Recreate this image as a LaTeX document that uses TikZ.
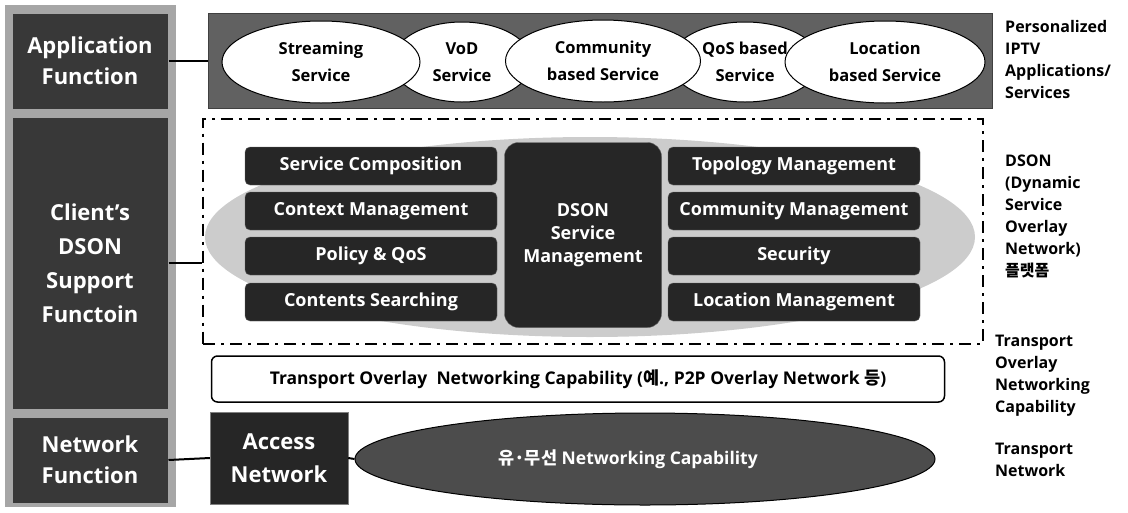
\documentclass[tikz,border=0pt]{standalone}
\usepackage{fontspec}
\setmainfont{Open Sans}
\newfontfamily\krfont{Noto Sans CJK KR}
\usetikzlibrary{positioning,shapes.geometric}
\newcommand{\kr}[1]{{\krfont #1}}

\tikzset{
  funcbox/.style={fill=black!78, draw=black!35, line width=1pt, text=white,
    minimum width=156, align=center,
    font=\bfseries\fontsize{22}{31}\selectfont},
  svc/.style={ellipse, draw, line width=1pt, fill=white, align=center, inner sep=0pt,
    font=\bfseries\fontsize{16.5}{27}\selectfont},
  mgmt/.style={rounded corners=5pt, fill=black!85, draw=black!60, text=white,
    minimum width=252, minimum height=38, font=\bfseries\fontsize{18}{23}\selectfont},
  sidelabel/.style={anchor=north west, align=left, inner sep=0pt,
    font=\bfseries\fontsize{16}{22}\selectfont},
  link/.style={line width=2pt}
}

\begin{document}
\begin{tikzpicture}[x=1pt,y=-1pt]
    \useasboundingbox (0,0) rectangle (1128,512);
    % left column of functions
    \fill[black!35] (5,5) rectangle (176,507);
    \node[funcbox, minimum height=96] (appfn) at (90,61) {Application\\Function};
    \node[funcbox, minimum height=292, font=\bfseries\fontsize{22}{34}\selectfont]
        (clientfn) at (90,263) {Client's\\DSON\\Support\\Functoin};
    \node[funcbox, minimum height=86] (netfn) at (90,460) {Network\\Function};

    % application layer
    \node[fill=black!62, draw=black!75, minimum width=784, minimum height=95] (appbar) at (600,61) {};
    \node[svc, minimum width=140, minimum height=80] (vod) at (462,62) {VoD\\Service};
    \node[svc, minimum width=150, minimum height=80] (qos) at (745,62) {QoS based\\Service};
    \node[svc, minimum width=198, minimum height=82] (stream) at (321,62) {Streaming\\Service};
    \node[svc, minimum width=195, minimum height=82] (comm) at (603,61) {Community\\based Service};
    \node[svc, minimum width=200, minimum height=82] (loc) at (885,62) {Location\\based Service};
    \draw[link] (appfn.east) -- (appbar.west);

    % DSON platform
    \node[ellipse, fill=black!20, minimum width=770, minimum height=200] (cloud) at (590,237) {};
    \node[draw, line width=2pt, dash pattern=on 12pt off 6pt on 3pt off 6pt,
        minimum width=780, minimum height=225] (dsonbox) at (593,231) {};
    \node[mgmt] (svccomp) at (371,166) {Service Composition};
    \node[mgmt] (ctxmgmt) at (371,211) {Context Management};
    \node[mgmt] (policy) at (371,256) {Policy \& QoS};
    \node[mgmt] (search) at (371,302) {Contents Searching};
    \node[mgmt, rounded corners=14pt, minimum width=157, minimum height=185, align=center]
        (dsonmgmt) at (583,235) {DSON\\Service\\Management};
    \node[mgmt] (topo) at (794,166) {Topology Management};
    \node[mgmt] (commmgmt) at (794,211) {Community Management};
    \node[mgmt] (security) at (794,256) {Security};
    \node[mgmt] (locmgmt) at (794,302) {Location Management};
    \draw[link] (clientfn.east) -- (clientfn.east -| dsonbox.west);

    % transport overlay
    \node[draw, line width=1.5pt, rounded corners=6pt, minimum width=733, minimum height=46,
        font=\bfseries\fontsize{17.5}{20}\selectfont] (overlay) at (578,379)
        {Transport Overlay\ \ Networking Capability (\kr{예}., P2P Overlay Network \kr{등})};

    % transport network
    \node[fill=black!85, draw=black!50, text=white, minimum width=138, minimum height=92, align=center,
        font=\bfseries\fontsize{22}{33}\selectfont] (access) at (279,458) {Access\\Network};
    \node[ellipse, fill=black!70, draw=black, line width=1pt, minimum width=580, minimum height=92] (wired) at (645,459) {};
    \node[text=white, font=\bfseries\fontsize{17.5}{20}\selectfont] (wiredtxt) at (628,459)
        {\kr{유·무선} Networking Capability};
    \draw[link] (netfn.east) -- (access.west);
    \draw[link] (access.east) -- (wired.west);

    % layer labels
    \node[sidelabel] (lblapp) at (1005,20) {Personalized\\IPTV\\Applications/\\Services};
    \node[sidelabel] (lbldson) at (1005,155) {DSON\\(Dynamic\\Service\\Overlay\\Network)\\\kr{플랫폼}};
    \node[sidelabel] (lbloverlay) at (995,335) {Transport\\Overlay\\Networking\\Capability};
    \node[sidelabel] (lblnet) at (995,443) {Transport\\Network};
\end{tikzpicture}
\end{document}
